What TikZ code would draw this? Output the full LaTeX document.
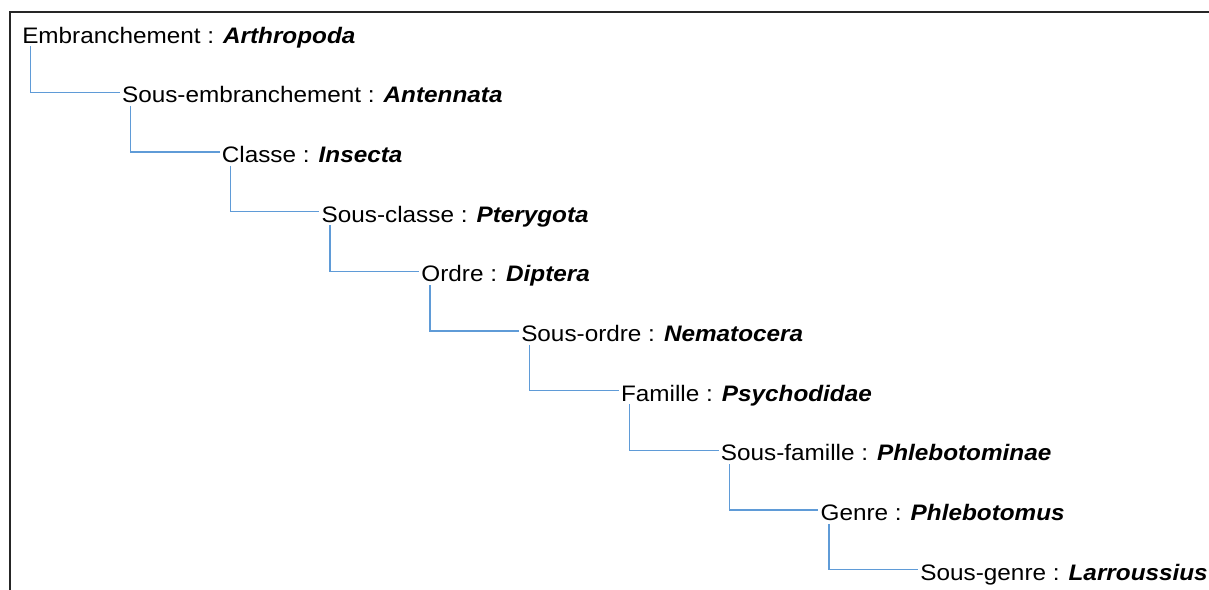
\documentclass[tikz,border=0pt]{standalone}
\usepackage{fontspec}
\setmainfont{Liberation Sans}[FakeStretch=1.085]
\definecolor{bleutrait}{RGB}{95,155,215}

\begin{document}
\begin{tikzpicture}[x=0.75pt,y=-0.75pt,
  taxon/.style={anchor=base west,inner xsep=1.5pt,inner ysep=2.25pt,
    text height=15.75pt,text depth=0pt,font=\fontsize{16.8}{18}\selectfont},
  lien/.style={draw=bleutrait,line width=1pt},
  cadre/.style={draw=black!85,line width=1.4pt}]
\useasboundingbox (0,0) rectangle (1209,589);
\draw[cadre] (10,600) -- (10,12) -- (1215,12);
% un rang par ligne, décalé vers la droite
\node[taxon] (emb)  at (20,43)      {Embranchement : \textbf{\textit{Arthropoda}}};
\node[taxon] (semb) at (119.8,102.7) {Sous-embranchement : \textbf{\textit{Antennata}}};
\node[taxon] (cla)  at (219.6,162.4) {Classe : \textbf{\textit{Insecta}}};
\node[taxon] (scla) at (319.4,222.1) {Sous-classe : \textbf{\textit{Pterygota}}};
\node[taxon] (ord)  at (419.2,281.8) {Ordre : \textbf{\textit{Diptera}}};
\node[taxon] (sord) at (519,341.5)   {Sous-ordre : \textbf{\textit{Nematocera}}};
\node[taxon] (fam)  at (618.8,401.2) {Famille : \textbf{\textit{Psychodidae}}};
\node[taxon] (sfam) at (718.6,460.9) {Sous-famille : \textbf{\textit{Phlebotominae}}};
\node[taxon] (gen)  at (818.4,520.6) {Genre : \textbf{\textit{Phlebotomus}}};
\node[taxon] (sgen) at (918.2,580.3) {Sous-genre : \textbf{\textit{Larroussius}}};
\draw[lien] ([xshift=8pt]emb.south west)  |- (semb.west);
\draw[lien] ([xshift=8pt]semb.south west) |- (cla.west);
\draw[lien] ([xshift=8pt]cla.south west)  |- (scla.west);
\draw[lien] ([xshift=8pt]scla.south west) |- (ord.west);
\draw[lien] ([xshift=8pt]ord.south west)  |- (sord.west);
\draw[lien] ([xshift=8pt]sord.south west) |- (fam.west);
\draw[lien] ([xshift=8pt]fam.south west)  |- (sfam.west);
\draw[lien] ([xshift=8pt]sfam.south west) |- (gen.west);
\draw[lien] ([xshift=8pt]gen.south west)  |- (sgen.west);
\end{tikzpicture}
\end{document}
